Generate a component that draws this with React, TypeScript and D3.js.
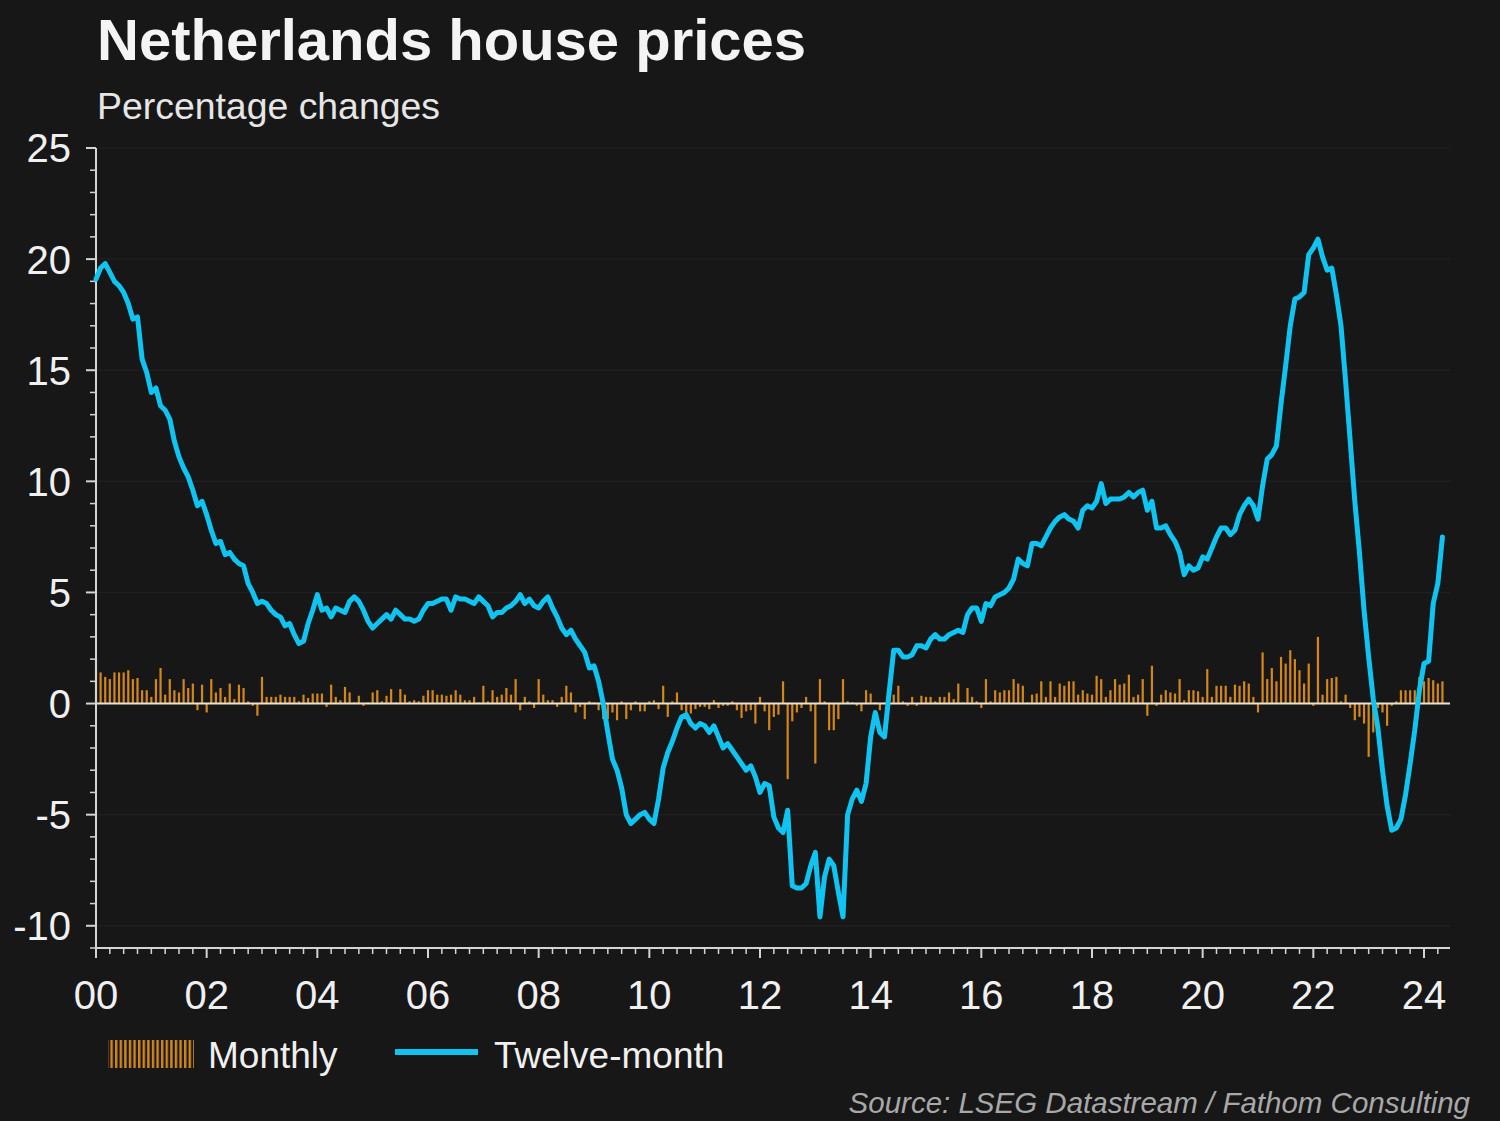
import * as d3 from "d3";

// Monthly house price change (%), Jan 2000 – May 2024
const monthlyChange = [
  2.0, 1.4, 1.2, 1.1, 1.4, 1.4, 1.4, 1.5, 1.1, 1.15, 0.6, 0.6, // 2000
  0.3, 1.1, 1.6, 0.4, 1.1, 0.6, 0.5, 1.1, 0.7, 0.9, -0.3, 0.85, // 2001
  -0.4, 1.1, 0.5, 0.7, 0.3, 0.9, 0.2, 0.85, 0.7, 0.1, -0.1, -0.55, // 2002
  1.2, 0.3, 0.3, 0.3, 0.4, 0.3, 0.3, 0.3, 0.1, 0.4, 0.25, 0.45, // 2003
  0.45, 0.45, -0.15, 0.85, 0.3, 0.15, 0.75, 0.5, 0.05, 0.35, -0.1, 0.05, // 2004
  0.5, 0.6, 0.1, 0.35, 0.65, 0.05, 0.65, 0.4, 0.1, 0.15, 0.1, 0.35, // 2005
  0.6, 0.6, 0.4, 0.4, 0.35, 0.4, 0.6, 0.4, 0.15, 0.15, 0.3, 0.05, // 2006
  0.8, 0.1, 0.6, 0.3, 0.4, 0.7, 0.4, 1.1, -0.3, 0.3, 0.1, -0.2, // 2007
  1.1, 0.4, 0.15, 0.15, -0.15, 0.3, 0.8, 0.5, -0.4, -0.15, -0.7, 0.1, // 2008
  0.05, -0.3, -0.7, -0.7, -0.4, -0.75, 0.1, -0.7, -0.3, 0.1, -0.35, -0.35, // 2009
  0.1, 0.15, -0.25, 0.8, -0.6, 0.1, 0.5, -0.3, -0.4, -0.45, -0.25, -0.15, // 2010
  -0.15, -0.25, 0.15, -0.2, -0.1, -0.1, 0.1, -0.3, -0.65, -0.35, -0.3, -0.9, // 2011
  0.3, -0.35, -1.2, -0.6, -0.5, 1.0, -3.4, -0.8, -0.4, -0.2, 0.3, -0.35, // 2012
  -2.7, 1.1, 0.1, -1.2, -1.2, -0.7, 1.1, 0.1, 0.05, -0.1, -0.35, 0.6, // 2013
  0.45, 0.05, -0.3, 0.05, 0.05, 0.4, 0.8, 0.1, -0.1, 0.3, -0.1, 0.35, // 2014
  0.3, 0.3, 0.1, 0.3, 0.3, 0.5, 0.2, 0.9, 0.05, 0.7, 0.3, 0.1, // 2015
  -0.2, 1.1, 0.1, 0.6, 0.5, 0.6, 0.6, 1.1, 0.9, 0.8, 0.05, 0.4, // 2016
  0.45, 1.0, 0.3, 1.0, 0.3, 0.9, 0.8, 1.0, 1.0, 0.4, 0.6, 0.45, // 2017
  0.4, 1.25, 1.1, 0.3, 0.6, 1.1, 0.85, 0.9, 1.3, 0.3, 0.4, 1.1, // 2018
  -0.55, 1.7, -0.1, 0.4, 0.6, 0.5, 0.45, 1.1, 0.15, 0.6, 0.6, 0.55, // 2019
  0.3, 1.55, 0.3, 0.8, 0.8, 0.8, 0.3, 0.85, 0.8, 1.0, 0.9, 0.3, // 2020
  -0.4, 2.3, 1.1, 1.6, 1.0, 2.1, 1.8, 2.4, 2.0, 1.5, 0.9, 1.8, // 2021
  -0.1, 3.0, 0.4, 1.1, 1.15, 1.2, 0.1, 0.4, -0.2, -0.75, -0.6, -0.9, // 2022
  -2.4, -1.3, -0.2, -0.4, -1.0, -0.1, 0.1, 0.6, 0.6, 0.6, 0.6, 1.2, // 2023
  1.0, 1.15, 1.05, 0.9, 1.0, // 2024
];

// Twelve-month house price change (%), Jan 2000 – May 2024
const twelveMonthChange = [
  19.1, 19.6, 19.8, 19.4, 19.0, 18.8, 18.5, 18.0, 17.3, 17.4, 15.5, 14.9, // 2000
  14.0, 14.2, 13.4, 13.2, 12.8, 11.8, 11.1, 10.6, 10.2, 9.6, 8.9, 9.1, // 2001
  8.5, 7.8, 7.2, 7.3, 6.7, 6.8, 6.5, 6.3, 6.2, 5.4, 5.0, 4.5, // 2002
  4.6, 4.5, 4.2, 4.0, 3.9, 3.5, 3.6, 3.1, 2.7, 2.8, 3.6, 4.2, // 2003
  4.9, 4.2, 4.3, 3.9, 4.3, 4.2, 4.1, 4.6, 4.8, 4.6, 4.2, 3.7, // 2004
  3.4, 3.6, 3.8, 4.0, 3.8, 4.2, 4.0, 3.8, 3.8, 3.7, 3.8, 4.2, // 2005
  4.5, 4.5, 4.6, 4.7, 4.7, 4.2, 4.8, 4.7, 4.7, 4.6, 4.5, 4.8, // 2006
  4.6, 4.4, 3.9, 4.1, 4.1, 4.3, 4.4, 4.6, 4.9, 4.5, 4.7, 4.4, // 2007
  4.3, 4.6, 4.8, 4.3, 3.9, 3.4, 3.1, 3.3, 2.9, 2.6, 2.3, 1.6, // 2008
  1.7, 1.0, 0.0, -1.3, -2.5, -3.0, -3.8, -5.0, -5.4, -5.2, -5.0, -4.9, // 2009
  -5.2, -5.4, -4.3, -2.9, -2.2, -1.7, -1.1, -0.6, -0.5, -0.9, -1.1, -0.9, // 2010
  -1.0, -1.3, -1.0, -1.5, -2.0, -1.8, -2.1, -2.4, -2.7, -3.0, -2.8, -3.3, // 2011
  -4.0, -3.6, -3.7, -5.1, -5.6, -5.8, -4.8, -8.2, -8.3, -8.3, -8.1, -7.3, // 2012
  -6.7, -9.6, -7.8, -7.0, -7.3, -8.5, -9.6, -5.0, -4.3, -3.9, -4.4, -3.6, // 2013
  -1.5, -0.4, -1.3, -1.5, 0.5, 2.4, 2.4, 2.1, 2.1, 2.2, 2.6, 2.6, // 2014
  2.5, 2.9, 3.1, 2.9, 2.9, 3.1, 3.2, 3.3, 3.2, 4.0, 4.3, 4.3, // 2015
  3.7, 4.5, 4.4, 4.8, 4.9, 5.0, 5.2, 5.6, 6.5, 6.3, 6.2, 7.2, // 2016
  7.2, 7.1, 7.5, 7.9, 8.2, 8.4, 8.5, 8.3, 8.2, 7.9, 8.7, 8.9, // 2017
  8.8, 9.1, 9.9, 9.0, 9.2, 9.2, 9.2, 9.3, 9.5, 9.3, 9.5, 9.6, // 2018
  8.7, 9.1, 7.9, 7.9, 8.0, 7.6, 7.3, 6.8, 5.8, 6.2, 6.0, 6.1, // 2019
  6.6, 6.5, 7.0, 7.5, 7.9, 7.9, 7.6, 7.8, 8.5, 8.9, 9.2, 8.9, // 2020
  8.3, 9.8, 11.0, 11.2, 11.6, 13.5, 15.2, 17.0, 18.2, 18.3, 18.5, 20.2, // 2021
  20.5, 20.9, 20.1, 19.5, 19.6, 18.4, 17.0, 14.5, 11.8, 9.1, 6.8, 4.2, // 2022
  2.1, 0.2, -1.1, -3.0, -4.6, -5.7, -5.6, -5.2, -4.1, -2.7, -1.2, 0.6, // 2023
  1.8, 1.9, 4.5, 5.4, 7.5, // 2024
];

const xTickLabels = ["00", "02", "04", "06", "08", "10", "12", "14", "16", "18", "20", "22", "24"];
const yTickValues = [-10, -5, 0, 5, 10, 15, 20, 25];
const seriesNames = ["Monthly", "Twelve-month"];

const W = 1500;
const H = 1121;
const plot = { left: 96, right: 1450, top: 148, bottom: 948 };

const BG = "#171717";
const AXIS = "#d4d4d4";
const BAR = "#d2871a";
const LINE = "#10c4f2";
const FONT = "'Liberation Sans', Arial, sans-serif";

const START = 2000;
const dateOf = (i: number) => START + i / 12;

export default function App() {
  const x = d3.scaleLinear().domain([START, 2024.47]).range([plot.left, plot.right]);
  const y = d3.scaleLinear().domain([-11, 25]).range([plot.bottom, plot.top]);

  const linePath = d3
    .line<number>()
    .x((_, i) => x(dateOf(i)))
    .y((d) => y(d))(twelveMonthChange);

  // quarterly ticks on the time axis, every 2 years labelled
  const quarterTicks = d3.range(0, Math.floor((2024.47 - START) * 4) + 1).map((q) => START + q / 4);
  const unitTicks = d3.range(-11, 26);
  const barW = 2.2;

  return (
    <div style={{ position: "absolute", left: 0, top: 0 }}>
      <svg width={W} height={H} style={{ display: "block", fontFamily: FONT }}>
        <defs>
          <pattern id="monthlySwatch" width="4.6" height="30" patternUnits="userSpaceOnUse">
            <rect x="0" y="0" width="2.4" height="30" fill={BAR} />
          </pattern>
        </defs>
        <rect width={W} height={H} fill={BG} />

        {/* title */}
        <text x={97} y={60} fill="#f4f4f4" fontSize={58} fontWeight="bold">
          Netherlands house prices
        </text>
        <text x={97} y={119} fill="#e6e6e6" fontSize={37.4}>
          Percentage changes
        </text>

        {/* faint gridlines */}
        {yTickValues.map((v) => (
          <line key={`g${v}`} x1={plot.left} x2={plot.right} y1={y(v)} y2={y(v)} stroke="#1f1f1f" strokeWidth={1.5} />
        ))}

        {/* monthly bars */}
        {monthlyChange.map((v, i) => {
          const cx = x(dateOf(i));
          const y0 = y(0);
          const y1 = y(v);
          return (
            <rect
              key={`b${i}`}
              x={cx - barW / 2}
              y={Math.min(y0, y1)}
              width={barW}
              height={Math.max(Math.abs(y1 - y0), 0.8)}
              fill={BAR}
            />
          );
        })}

        {/* zero line */}
        <line x1={plot.left} x2={plot.right} y1={y(0)} y2={y(0)} stroke="#ece2d2" strokeWidth={2} />

        {/* y axis */}
        <line x1={plot.left} x2={plot.left} y1={plot.top} y2={plot.bottom} stroke={AXIS} strokeWidth={2} />
        {unitTicks.map((v) => {
          const major = v % 5 === 0;
          return (
            <line
              key={`yt${v}`}
              x1={plot.left - (major ? 10 : 6)}
              x2={plot.left}
              y1={y(v)}
              y2={y(v)}
              stroke={AXIS}
              strokeWidth={major ? 2 : 1.5}
            />
          );
        })}
        {yTickValues.map((v) => (
          <text key={`yl${v}`} x={71} y={y(v)} dy="0.36em" textAnchor="end" fill="#f0f0f0" fontSize={40}>
            {v}
          </text>
        ))}

        {/* x axis */}
        <line x1={plot.left} x2={plot.right} y1={plot.bottom} y2={plot.bottom} stroke={AXIS} strokeWidth={2} />
        {quarterTicks.map((t, q) => {
          const major = q % 8 === 0;
          return (
            <line
              key={`xt${q}`}
              x1={x(t)}
              x2={x(t)}
              y1={plot.bottom}
              y2={plot.bottom + (major ? 10 : 6)}
              stroke={AXIS}
              strokeWidth={major ? 2 : 1.5}
            />
          );
        })}
        {xTickLabels.map((lab, k) => (
          <text key={`xl${lab}`} x={x(START + k * 2)} y={1009} textAnchor="middle" fill="#f0f0f0" fontSize={40}>
            {lab}
          </text>
        ))}

        {/* twelve-month line */}
        <path d={linePath ?? ""} fill="none" stroke={LINE} strokeWidth={5} strokeLinejoin="round" strokeLinecap="round" />

        {/* legend */}
        <rect x={108} y={1040} width={86} height={28} fill="url(#monthlySwatch)" />
        <text x={208} y={1068} fill="#f0f0f0" fontSize={37}>
          {seriesNames[0]}
        </text>
        <line x1={395} x2={478} y1={1052} y2={1052} stroke={LINE} strokeWidth={6} />
        <text x={494} y={1068} fill="#f0f0f0" fontSize={37}>
          {seriesNames[1]}
        </text>

        {/* source */}
        <text x={1470} y={1113} textAnchor="end" fill="#a8a8a8" fontSize={29.5} fontStyle="italic">
          Source: LSEG Datastream / Fathom Consulting
        </text>
      </svg>
    </div>
  );
}
